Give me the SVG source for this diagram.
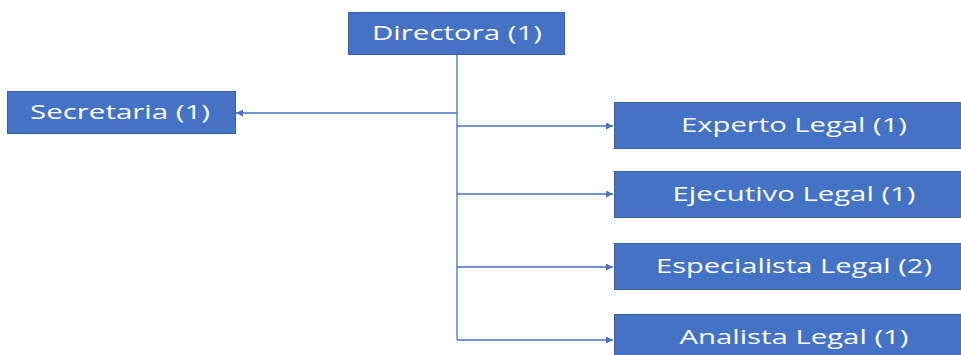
<svg xmlns="http://www.w3.org/2000/svg" width="961" height="355" viewBox="0 0 961 355">
  <style>
    .box { fill: #4472C4; stroke: #3A62A8; stroke-width: 1; }
    .lbl { font-family: "Open Sans", "Noto Sans", sans-serif; font-size: 20px; fill: #FFFFFF; text-anchor: middle; }
    .edge { fill: none; stroke: #4472C4; stroke-width: 1.3; }
  </style>
  <defs>
    <marker id="arr" viewBox="0 0 10 10" refX="10" refY="5" markerWidth="9" markerHeight="7" markerUnits="userSpaceOnUse" orient="auto">
      <path d="M0,0 L10,5 L0,10 z" fill="#4472C4"/>
    </marker>
  </defs>
  <rect width="961" height="355" fill="#FFFFFF"/>
  <g id="connectors">
    <path class="edge" d="M457,55 V113 H236" marker-end="url(#arr)"/>
    <path class="edge" d="M457,113 V340"/>
    <path class="edge" d="M457,126 H613" marker-end="url(#arr)"/>
    <path class="edge" d="M457,194 H613" marker-end="url(#arr)"/>
    <path class="edge" d="M457,267 H613" marker-end="url(#arr)"/>
    <path class="edge" d="M457,340 H613" marker-end="url(#arr)"/>
  </g>
  <g id="directora">
    <rect class="box" x="348.5" y="12.5" width="216" height="42"/>
    <text class="lbl" x="457" y="40" textLength="170" lengthAdjust="spacingAndGlyphs">Directora (1)</text>
  </g>
  <g id="secretaria">
    <rect class="box" x="7.5" y="91.5" width="228" height="42"/>
    <text class="lbl" x="120" y="119" textLength="180" lengthAdjust="spacingAndGlyphs">Secretaria (1)</text>
  </g>
  <g id="experto">
    <rect class="box" x="614.5" y="102.5" width="360" height="46"/>
    <text class="lbl" x="794" y="132" textLength="226" lengthAdjust="spacingAndGlyphs">Experto Legal (1)</text>
  </g>
  <g id="ejecutivo">
    <rect class="box" x="614.5" y="171.5" width="360" height="46"/>
    <text class="lbl" x="794" y="201" textLength="243" lengthAdjust="spacingAndGlyphs">Ejecutivo Legal (1)</text>
  </g>
  <g id="especialista">
    <rect class="box" x="614.5" y="243.5" width="360" height="46"/>
    <text class="lbl" x="794" y="273" textLength="276" lengthAdjust="spacingAndGlyphs">Especialista Legal (2)</text>
  </g>
  <g id="analista">
    <rect class="box" x="614.5" y="314.5" width="360" height="46"/>
    <text class="lbl" x="794" y="344" textLength="229" lengthAdjust="spacingAndGlyphs">Analista Legal (1)</text>
  </g>
</svg>
